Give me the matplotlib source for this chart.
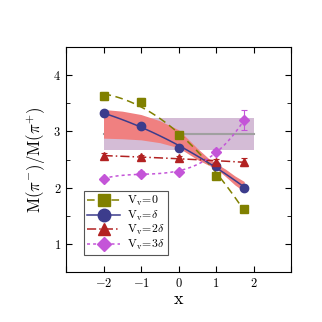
import numpy as np
import matplotlib
matplotlib.use("Agg")
import matplotlib.pyplot as plt
from matplotlib.ticker import MultipleLocator, FuncFormatter

plt.rcParams['mathtext.fontset'] = 'cm'
plt.rcParams['font.family'] = ['serif']

# data
x = [-2, -1, 0, 1, 1.75]
v0 = [3.63, 3.52, 2.94, 2.21, 1.63]
v0_err = [0.07, 0.07, 0.05, 0.04, 0.03]
v1 = [3.32, 3.10, 2.71, 2.39, 2.00]
v1_err = [0.04, 0.04, 0.04, 0.04, 0.04]
v2 = [2.57, 2.54, 2.53, 2.46, 2.46]
v2_err = [0.05, 0.04, 0.04, 0.05, 0.07]
v3 = [2.16, 2.25, 2.28, 2.64, 3.20]
v3_err = [0.03, 0.04, 0.04, 0.05, 0.18]

# fit band for V=delta
band_x = [-2, -1.5, -1, -0.5, 0, 0.5, 0.8, 1, 1.25, 1.5, 1.75]
band_lo = [2.88, 2.87, 2.85, 2.80, 2.71, 2.50, 2.40, 2.34, 2.20, 2.05, 1.93]
band_hi = [3.39, 3.36, 3.30, 3.19, 3.03, 2.70, 2.52, 2.43, 2.33, 2.21, 2.11]

# constant band
const_val = 2.95
const_lo = 2.67
const_hi = 3.23

series = [
    (v0, v0_err, '#808000', 's', (0, (5, 3)), 2, r'$\mathrm{V}_\mathrm{v}\!=\!0$'),
    (v1, v1_err, '#3c3c8c', 'o', '-', 2, r'$\mathrm{V}_\mathrm{v}\!=\!\delta$'),
    (v2, v2_err, '#b22222', '^', (0, (6, 2, 1, 2)), 2, r'$\mathrm{V}_\mathrm{v}\!=\!2\delta$'),
    (v3, v3_err, '#c455d8', 'D', (0, (2, 2)), 3, r'$\mathrm{V}_\mathrm{v}\!=\!3\delta$'),
]

fig = plt.figure(figsize=(3.22, 3.22), dpi=100)
ax = fig.add_axes([0.205, 0.155, 0.699, 0.699])

ax.fill_between([-2, 2], const_lo, const_hi, color='#d4bcd6', lw=0, zorder=1)
ax.plot([-2, 2], [const_val, const_val], color='#a0a0a0', lw=1.5, zorder=2)
ax.fill_between(band_x, band_lo, band_hi, color='#f08080', lw=0, zorder=2)

xs = np.linspace(-2, 1.75, 100)
for y, err, col, mk, ls, deg, lab in series:
    coef = np.polyfit(x, y, deg)
    ax.plot(xs, np.polyval(coef, xs), color=col, ls=ls, lw=1.1, zorder=3)
    ax.errorbar(x, y, yerr=err, fmt=mk, color=col, ms=6 if mk != 'D' else 5,
                elinewidth=0.8, capsize=2, capthick=0.8, zorder=4)
    ax.plot([], [], color=col, ls=ls, marker=mk, ms=9 if mk != 'D' else 7, lw=1.1, label=lab)

ax.set_xlim(-3, 3)
ax.set_ylim(0.5, 4.5)
ax.xaxis.set_major_locator(MultipleLocator(1))
ax.yaxis.set_major_locator(MultipleLocator(1))
ax.yaxis.set_minor_locator(MultipleLocator(0.5))
ax.xaxis.set_major_formatter(FuncFormatter(lambda v, p: r'$%d$' % v if -2 <= v <= 2 else ''))
ax.yaxis.set_major_formatter(FuncFormatter(lambda v, p: r'$%d$' % v))
ax.tick_params(which='both', direction='in', top=True, right=True, labelsize=9)
ax.tick_params(which='major', length=4)
ax.tick_params(which='minor', length=3)

ax.set_xlabel(r'$\mathrm{x}$', fontsize=13, labelpad=0)
ax.set_ylabel(r'$\mathrm{M}(\pi^{-})/\mathrm{M}(\pi^{+})$', fontsize=12, labelpad=4)

leg = ax.legend(loc='lower left', bbox_to_anchor=(0.055, 0.05), fontsize=8.5, fancybox=False,
                edgecolor='#555555', handlelength=2.8, borderpad=0.25, labelspacing=0.05,
                handletextpad=0.6, framealpha=1)
leg.get_frame().set_linewidth(0.8)

fig.savefig('out.png', dpi=100)
